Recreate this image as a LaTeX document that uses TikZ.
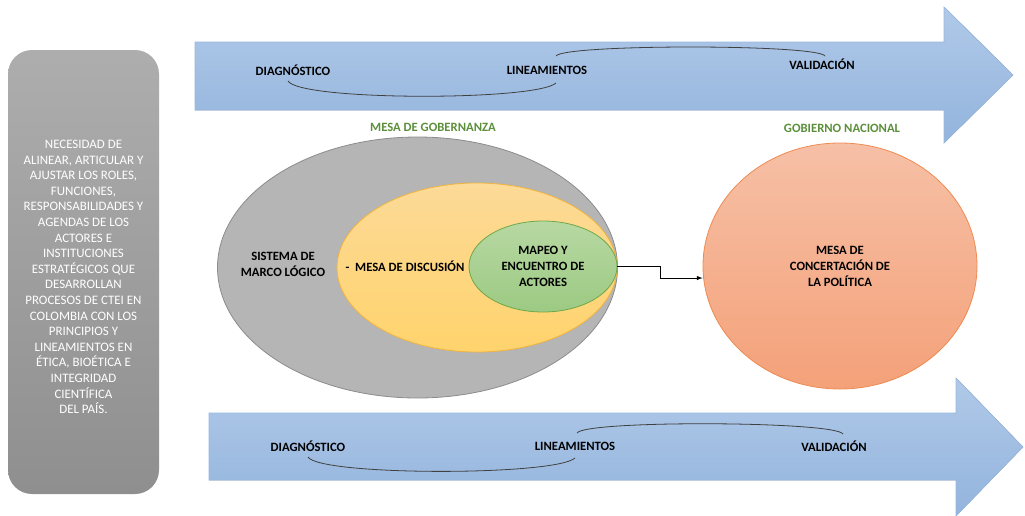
\documentclass[tikz,border=0pt]{standalone}
\usepackage{fontspec}
\setmainfont{Carlito}
\usetikzlibrary{shapes.geometric}

\definecolor{flecha}{HTML}{9AB8DF}
\definecolor{flechaalta}{HTML}{B0C9E8}
\definecolor{flechabaja}{HTML}{93B4DD}
\definecolor{verdetit}{HTML}{5B8F3A}
\definecolor{amarilloa}{HTML}{FCDA98}
\definecolor{amarillob}{HTML}{FFD36C}
\definecolor{amarilloborde}{HTML}{F2B43C}
\definecolor{verdea}{HTML}{B7D8A2}
\definecolor{verdeb}{HTML}{9CCA83}
\definecolor{verdeborde}{HTML}{6FA84A}
\definecolor{naranjaa}{HTML}{F6C0A6}
\definecolor{naranjab}{HTML}{F4A179}
\definecolor{naranjaborde}{HTML}{EE8B52}

\tikzset{
  flechafill/.style={draw=flecha,line width=0.5pt,top color=flechaalta,bottom color=flechabaja},
  etiqueta/.style={font=\fontsize{9.5}{11}\selectfont\bfseries,inner sep=1pt},
  titulo/.style={etiqueta,text=verdetit},
  enlace/.style={draw=black!75,line width=0.6pt},
  elipse/.style={ellipse,inner sep=0pt,line width=0.6pt,align=center,
    font=\fontsize{9.5}{12}\selectfont\bfseries}
}

\begin{document}
\begin{tikzpicture}[x=0.75pt,y=-0.75pt]
    \useasboundingbox (0,0) rectangle (1025,515);
    % recuadro lateral
    \node[draw=none,rounded corners=18pt,top color=black!32,bottom color=black!44,
      minimum width=113.25pt,minimum height=333pt] (necesidad) at (83.5,272) {};
    \node[text=white,align=center,font=\fontsize{9.7}{11.7}\selectfont] (necesidadtxt) at (83.5,277) {NECESIDAD DE\\ALINEAR, ARTICULAR Y\\AJUSTAR LOS ROLES,\\FUNCIONES,\\RESPONSABILIDADES Y\\AGENDAS DE LOS\\ACTORES E\\INSTITUCIONES\\ESTRAT\'EGICOS QUE\\DESARROLLAN\\PROCESOS DE CTEI EN\\COLOMBIA CON LOS\\PRINCIPIOS Y\\LINEAMIENTOS EN\\\'ETICA, BIO\'ETICA E\\INTEGRIDAD\\CIENT\'IFICA\\DEL PA\'IS.};
    % flecha superior
    \fill[flechafill] (195,42) -- (944,42) -- (944,7) -- (1013,75) -- (944,143) -- (944,110) -- (195,110) -- cycle;
    \node[etiqueta] (diag1) at (293,70) {DIAGN\'OSTICO};
    \node[etiqueta] (lin1) at (547,70) {LINEAMIENTOS};
    \node[etiqueta] (val1) at (822,64) {VALIDACI\'ON};
    \draw[enlace] ([shift={(-5,11)}]diag1.center) .. controls +(12,20) and +(-20,18) .. ([shift={(9,13)}]lin1.center);
    \draw[enlace] ([shift={(9,-14)}]lin1.center) .. controls +(8,-12) and +(-8,-12) .. ([shift={(3,-8)}]val1.center);
    % flecha inferior
    \fill[flechafill] (209,413) -- (956,413) -- (956,378) -- (1023,447) -- (956,516) -- (956,480) -- (209,480) -- cycle;
    \node[etiqueta] (diag2) at (308,446) {DIAGN\'OSTICO};
    \node[etiqueta] (lin2) at (575,446) {LINEAMIENTOS};
    \node[etiqueta] (val2) at (834,446) {VALIDACI\'ON};
    \draw[enlace] ([shift={(0,11)}]diag2.center) .. controls +(12,19) and +(-20,18) .. ([shift={(0,12)}]lin2.center);
    \draw[enlace] ([shift={(2,-13)}]lin2.center) .. controls +(8,-13) and +(-8,-13) .. ([shift={(9,-12)}]val2.center);
    % mesa de gobernanza
    \node[titulo] (gobernanza) at (433,127) {MESA DE GOBERNANZA};
    \node[elipse,draw=black!45,fill=black!29,minimum width=300pt,minimum height=195.75pt] (marco) at (417.5,267.5) {};
    \node[elipse,draw=amarilloborde,top color=amarilloa,bottom color=amarillob,
      minimum width=210pt,minimum height=126.75pt] (discusion) at (477,267.5) {};
    \node[elipse,draw=verdeborde,top color=verdea,bottom color=verdeb,
      minimum width=111pt,minimum height=68.25pt] (mapeo) at (543,266.5) {MAPEO Y\\ENCUENTRO DE\\ACTORES};
    \node[etiqueta,align=center,font=\fontsize{9.5}{12}\selectfont\bfseries] (marcotxt) at (283,264) {SISTEMA DE\\MARCO L\'OGICO};
    \node[etiqueta] (discusiontxt) at (405,266) {-\ \ MESA DE DISCUSI\'ON};
    % gobierno nacional
    \node[titulo] (nacional) at (842,128) {GOBIERNO NACIONAL};
    \node[elipse,draw=naranjaborde,top color=naranjaa,bottom color=naranjab,
      minimum width=205.5pt,minimum height=184.5pt] (concertacion) at (840,266) {MESA DE\\CONCERTACI\'ON DE\\LA POL\'ITICA};
    \draw[-latex,line width=0.5pt] (mapeo.east) -- ++(43,0) |- ([yshift=-9pt]concertacion.west);
\end{tikzpicture}
\end{document}
